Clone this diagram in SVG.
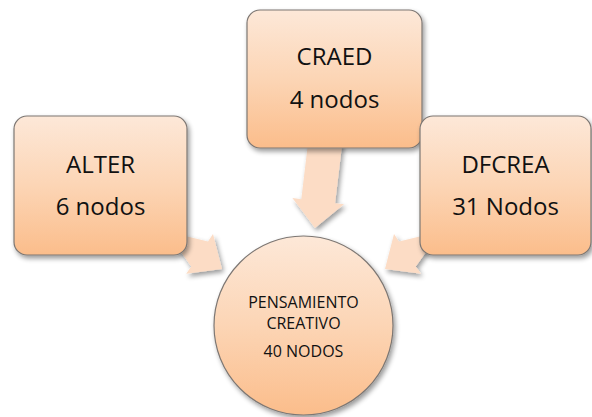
<svg xmlns="http://www.w3.org/2000/svg" width="592" height="417" viewBox="0 0 592 417">
  <defs>
    <linearGradient id="nodeFill" x1="0" y1="0" x2="0" y2="1">
      <stop offset="0" stop-color="#fde8d8"/>
      <stop offset="0.5" stop-color="#fcd5b5"/>
      <stop offset="1" stop-color="#fbbd8b"/>
    </linearGradient>
    <filter id="shadow" x="-20%" y="-20%" width="140%" height="140%">
      <feGaussianBlur in="SourceAlpha" stdDeviation="2.5"/>
      <feOffset dx="2" dy="3" result="b"/>
      <feComponentTransfer><feFuncA type="linear" slope="0.4"/></feComponentTransfer>
      <feMerge><feMergeNode/><feMergeNode in="SourceGraphic"/></feMerge>
    </filter>
  </defs>
  <style>
    .box { fill: url(#nodeFill); stroke: #7d7773; stroke-width: 1.2; filter: url(#shadow); }
    .arrow { fill: #fcdcc5; stroke: none; filter: url(#shadow); }
    .big { font-family: "Open Sans", "Liberation Sans", sans-serif; font-size: 24px; fill: #111; text-anchor: middle; }
    .small { font-family: "Open Sans", "Liberation Sans", sans-serif; font-size: 16px; fill: #111; text-anchor: middle; }
  </style>
  <rect width="592" height="417" fill="#ffffff"/>
  <g id="connectors">
    <polygon class="arrow" points="124.8,221.5 208,241.4 213,234 222,269 186.2,273.8 191.2,266.4 141.6,196.5"/>
    <polygon class="arrow" points="309.6,129.7 301.3,199.2 292.4,198.1 315,228 344,204.3 335.1,203.2 343.4,133.7"/>
    <polygon class="arrow" points="482.2,221.5 399,241.4 394,234 385,269 421,273.8 415.8,266.4 465.4,196.5"/>
  </g>
  <g id="alter">
    <rect class="box" x="14" y="116" width="173" height="139" rx="13" ry="13"/>
    <text class="big" x="100.5" y="173">ALTER</text>
    <text class="big" x="100.5" y="215">6 nodos</text>
  </g>
  <g id="craed">
    <rect class="box" x="247" y="10" width="175" height="138" rx="13" ry="13"/>
    <text class="big" x="334.5" y="65">CRAED</text>
    <text class="big" x="334.5" y="108">4 nodos</text>
  </g>
  <g id="dfcrea">
    <rect class="box" x="420" y="116" width="171" height="139" rx="13" ry="13"/>
    <text class="big" x="505.5" y="173">DFCREA</text>
    <text class="big" x="505.5" y="215">31 Nodos</text>
  </g>
  <g id="pensamiento">
    <circle class="box" cx="303.5" cy="325.5" r="89.5"/>
    <text class="small" x="303.5" y="308">PENSAMIENTO</text>
    <text class="small" x="303.5" y="329">CREATIVO</text>
    <text class="small" x="303.5" y="357">40 NODOS</text>
  </g>
</svg>
